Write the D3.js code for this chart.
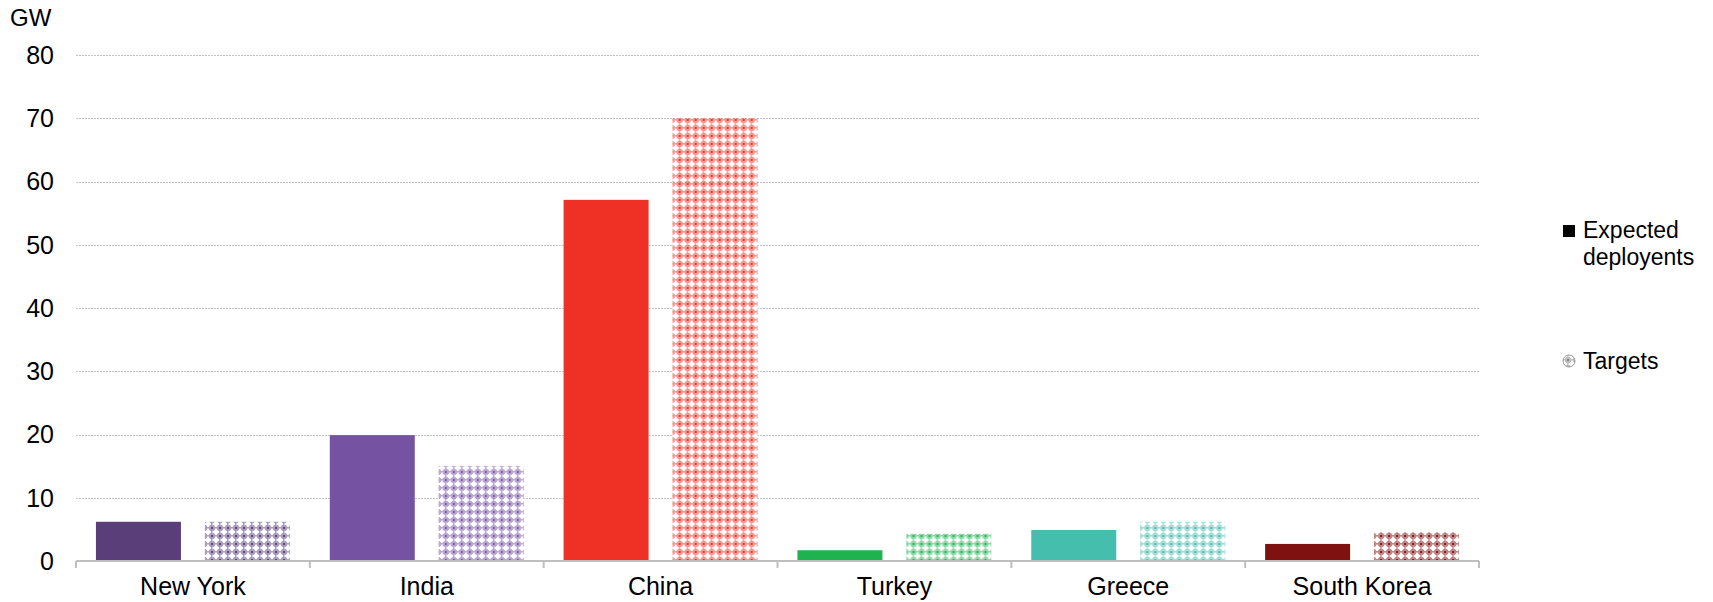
<!DOCTYPE html>
<html>
<head>
<meta charset="utf-8">
<script src="https://cdn.jsdelivr.net/npm/d3@7"></script>
<style>
  html, body { margin: 0; padding: 0; background: #fff; }
  svg { display: block; font-family: "Liberation Sans", Arial, sans-serif; }
</style>
</head>
<body>
<svg id="chart" width="1713" height="602"></svg>
<script>
// Capacity by market, in GW
const categories = ["New York", "India", "China", "Turkey", "Greece", "South Korea"];
const seriesNames = ["Expected deployents", "Targets"];
const expected = [6.2, 19.9, 57.1, 1.7, 4.9, 2.7];
const targets  = [6.2, 15.0, 70.0, 4.3, 6.2, 4.6];
const colors   = ["#5a3e7a", "#7652a3", "#ee3124", "#1fb34f", "#45bead", "#7f1210"];
const yTicks   = [0, 10, 20, 30, 40, 50, 60, 70, 80];

const svg = d3.select("#chart");
const margin = { left: 76, right: 234, top: 55, bottom: 41 };
const W = 1713, H = 602;

const x = d3.scaleBand().domain(categories).range([margin.left, W - margin.right]).padding(0);
const xInner = d3.scaleBand().domain(seriesNames).range([0, x.bandwidth()])
  .paddingInner(0.22).paddingOuter(0.183);
const y = d3.scaleLinear().domain([0, 80]).range([H - margin.bottom, margin.top]);

// Lattice fill patterns for the target bars, one per colour
const defs = svg.append("defs");
function makePattern(id, color) {
  const p = defs.append("pattern").attr("id", id)
    .attr("patternUnits", "userSpaceOnUse").attr("width", 8).attr("height", 8);
  p.append("rect").attr("width", 8).attr("height", 8).attr("fill", color).attr("opacity", 0.5);
  p.append("rect").attr("x", 1).attr("y", 3).attr("width", 6).attr("height", 2).attr("fill", "#fff");
  p.append("rect").attr("x", 3).attr("y", 1).attr("width", 2).attr("height", 6).attr("fill", "#fff");
  p.append("rect").attr("x", 2).attr("y", 2).attr("width", 4).attr("height", 4).attr("fill", "#fff").attr("opacity", 0.75);
  p.append("rect").attr("x", 0).attr("y", 3).attr("width", 1).attr("height", 2).attr("fill", "#fff").attr("opacity", 0.4);
  p.append("rect").attr("x", 3).attr("y", 0).attr("width", 2).attr("height", 1).attr("fill", "#fff").attr("opacity", 0.4);
  p.append("rect").attr("x", 0).attr("y", 0).attr("width", 1).attr("height", 1).attr("fill", color).attr("opacity", 0.9);
  p.append("rect").attr("x", 7).attr("y", 7).attr("width", 1).attr("height", 1).attr("fill", color).attr("opacity", 0.9);
  p.append("rect").attr("x", 7).attr("y", 0).attr("width", 1).attr("height", 1).attr("fill", color).attr("opacity", 0.9);
  p.append("rect").attr("x", 0).attr("y", 7).attr("width", 1).attr("height", 1).attr("fill", color).attr("opacity", 0.9);
}
colors.forEach((c, i) => makePattern("pat" + i, c));
makePattern("patLegend", "#808080");

// Gridlines
svg.append("g").selectAll("line")
  .data(yTicks.filter(d => d > 0))
  .join("line")
  .attr("x1", margin.left).attr("x2", W - margin.right)
  .attr("y1", d => Math.round(y(d)) + 0.5).attr("y2", d => Math.round(y(d)) + 0.5)
  .attr("stroke", "#c4c4c4").attr("stroke-width", 1).attr("stroke-dasharray", "2,1");

// Y tick labels
svg.append("g").selectAll("text")
  .data(yTicks)
  .join("text")
  .attr("x", 54).attr("y", d => y(d))
  .attr("dy", "0.35em").attr("text-anchor", "end")
  .attr("font-size", 25).attr("fill", "#000")
  .text(d => d);

svg.append("text").attr("x", 10).attr("y", 26)
  .attr("font-size", 24).attr("fill", "#000").text("GW");

// Bars
const groups = svg.append("g").selectAll("g")
  .data(categories)
  .join("g")
  .attr("transform", d => `translate(${x(d)},0)`);

groups.append("rect")
  .attr("x", xInner(seriesNames[0]))
  .attr("width", xInner.bandwidth())
  .attr("y", (d, i) => y(expected[i]))
  .attr("height", (d, i) => y(0) - y(expected[i]))
  .attr("fill", (d, i) => colors[i]);

groups.append("rect")
  .attr("x", xInner(seriesNames[1]))
  .attr("width", xInner.bandwidth())
  .attr("y", (d, i) => y(targets[i]))
  .attr("height", (d, i) => y(0) - y(targets[i]))
  .attr("fill", (d, i) => `url(#pat${i})`);

// X axis
const xAxis = svg.append("g").attr("transform", `translate(0,${y(0)})`);
xAxis.append("line")
  .attr("x1", margin.left).attr("x2", W - margin.right)
  .attr("stroke", "#bfbfbf").attr("stroke-width", 2);
const boundaries = categories.map(c => x(c)).concat([W - margin.right]);
xAxis.selectAll("line.tick")
  .data(boundaries)
  .join("line").attr("class", "tick")
  .attr("x1", d => d).attr("x2", d => d)
  .attr("y1", 0).attr("y2", 7)
  .attr("stroke", "#bfbfbf").attr("stroke-width", 2);
xAxis.selectAll("text")
  .data(categories)
  .join("text")
  .attr("x", d => x(d) + x.bandwidth() / 2)
  .attr("y", 34)
  .attr("text-anchor", "middle")
  .attr("font-size", 25).attr("fill", "#000")
  .text(d => d);

// Legend
const legend = svg.append("g");
legend.append("rect").attr("x", 1563).attr("y", 225).attr("width", 12).attr("height", 12).attr("fill", "#000");
legend.append("text").attr("x", 1583).attr("y", 238).attr("font-size", 23).attr("fill", "#000").text("Expected");
legend.append("text").attr("x", 1583).attr("y", 265).attr("font-size", 23).attr("fill", "#000").text("deployents");
legend.append("circle").attr("cx", 1569).attr("cy", 361).attr("r", 6)
  .attr("fill", "url(#patLegend)").attr("stroke", "#999").attr("stroke-width", 1);
legend.append("text").attr("x", 1583).attr("y", 369).attr("font-size", 23).attr("fill", "#000").text("Targets");
</script>
</body>
</html>
